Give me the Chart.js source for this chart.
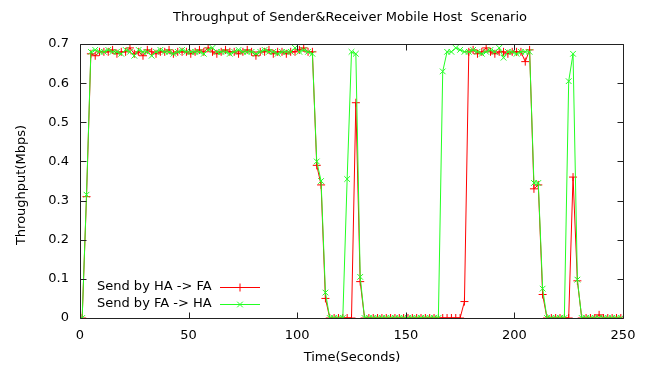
<!DOCTYPE html>
<html><head><meta charset="utf-8">
<script src="https://cdn.jsdelivr.net/npm/chart.js@4.4.1/dist/chart.umd.min.js"></script>
<style>html,body{margin:0;padding:0;background:#fff;}canvas{display:block}</style>
</head><body>
<canvas id="c" width="645" height="368"></canvas>
<script>
const chartTitle = "Throughput of Sender&Receiver Mobile Host  Scenario";
const xTitle = "Time(Seconds)";
const yTitle = "Throughput(Mbps)";
const seriesNames = ["Send by HA -> FA", "Send by FA -> HA"];
const xTicks = [0, 50, 100, 150, 200, 250];
const yTicks = [0, 0.1, 0.2, 0.3, 0.4, 0.5, 0.6, 0.7];

const times = [1,3,5,7,9,11,13,15,17,19,21,23,25,27,29,31,33,35,37,39,41,43,45,47,49,
51,53,55,57,59,61,63,65,67,69,71,73,75,77,79,81,83,85,87,89,91,93,95,97,99,
101,103,105,107,109,111,113,115,117,119,121,123,125,127,129,131,133,135,137,139,
141,143,145,147,149,151,153,155,157,159,161,163,165,167,169,171,173,175,177,179,
181,183,185,187,189,191,193,195,197,199,201,203,205,207,209,211,213,215,217,219,
221,223,225,227,229,231,233,235,237,239,241,243,245,247,249];

const haToFa = [0,0.31,
0.675,0.67,0.68,0.68,0.68,0.685,0.675,0.68,0.68,0.69,
0.675,0.68,0.67,0.685,0.68,0.675,0.68,0.68,0.685,0.675,
0.68,0.68,0.68,0.675,0.68,0.685,0.68,0.69,0.68,0.675,
0.68,0.685,0.68,0.68,0.675,0.68,0.685,0.68,0.67,0.68,
0.68,0.685,0.675,0.68,0.68,0.675,0.68,0.68,0.685,0.69,
0.68,0.68,
0.39,0.34,0.05,
0,0,0,0,0,0,
0.55,0.093,
0,0,0,0,0,0,0,0,0,0,0,0,0,0,0,0,0,0,0,0,0,0,0,
0.042,
0.68,0.685,0.675,0.68,0.69,0.68,0.675,0.68,0.68,0.675,0.68,0.68,0.68,
0.655,0.685,0.33,0.34,0.06,
0,0,0,0,0,0,
0.36,0.095,
0,0,0,0,0.008,0,0,0,0,0];

const faToHa = [0,0.315,
0.68,0.685,0.68,0.68,0.685,0.68,0.68,0.675,0.685,0.68,
0.67,0.685,0.68,0.68,0.67,0.68,0.685,0.68,0.68,0.675,
0.68,0.685,0.68,0.68,0.68,0.68,0.675,0.685,0.69,0.68,
0.68,0.68,0.675,0.68,0.685,0.68,0.68,0.68,0.675,0.68,
0.685,0.68,0.68,0.675,0.68,0.68,0.68,0.69,0.68,0.685,
0.68,0.675,
0.40,0.35,0.065,
0,0,0,0,
0.355,0.68,0.675,0.105,
0,0,0,0,0,0,0,0,0,0,0,0,0,0,0,0,0,0,
0.63,0.68,0.68,0.69,0.685,
0.68,0.68,0.685,0.68,0.675,0.68,0.685,0.68,0.69,0.665,0.68,0.68,0.675,0.68,0.68,
0.68,0.345,0.345,0.075,
0,0,0,0,0,
0.605,0.675,0.098,
0,0,0,0,0,0,0,0,0,0];

const colors = ['rgb(255,0,0)', 'rgb(34,255,34)'];
const FONT = 'DejaVu Sans';
const FS = 13;

const toXY = vals => times.map((t, i) => ({x: t, y: vals[i]}));

const framePlugin = {
  id: 'frame',
  afterDatasetsDraw(chart) {
    const {ctx, chartArea: a, scales: {x, y}} = chart;
    ctx.save();
    ctx.strokeStyle = '#222';
    ctx.lineWidth = 1;
    const L = Math.round(a.left) + 0.5, R = Math.round(a.right) + 0.5;
    const T = Math.round(a.top) + 0.5, B = Math.round(a.bottom) + 0.5;
    ctx.beginPath();
    ctx.rect(L, T, R - L, B - T);
    xTicks.forEach(v => {
      const px = Math.round(x.getPixelForValue(v)) + 0.5;
      ctx.moveTo(px, B); ctx.lineTo(px, B - 6);
      ctx.moveTo(px, T); ctx.lineTo(px, T + 6);
    });
    yTicks.forEach(v => {
      const py = Math.round(y.getPixelForValue(v)) + 0.5;
      ctx.moveTo(L, py); ctx.lineTo(L + 6, py);
      ctx.moveTo(R, py); ctx.lineTo(R - 6, py);
    });
    ctx.stroke();

    // legend
    ctx.font = FS + 'px "' + FONT + '"';
    ctx.fillStyle = '#000';
    ctx.textBaseline = 'middle';
    ctx.textAlign = 'left';
    const rows = [287, 304];
    chart.data.datasets.forEach((ds, i) => {
      const yy = rows[i];
      ctx.fillText(seriesNames[i], 97, yy);
      ctx.strokeStyle = ds.borderColor;
      ctx.lineWidth = 1;
      ctx.beginPath();
      ctx.moveTo(220, yy + 0.5); ctx.lineTo(260, yy + 0.5);
      ctx.stroke();
      Chart.helpers.drawPoint(ctx, {pointStyle: ds.pointStyle, radius: 4, borderWidth: 1, rotation: 0}, 240, yy + 0.5);
    });

    // titles
    ctx.fillStyle = '#000';
    ctx.textAlign = 'center';
    ctx.font = FS + 'px "' + FONT + '"';
    ctx.fillText(chartTitle, 350, 18);
    ctx.fillText(xTitle, 352, 358);
    ctx.translate(22, 185);
    ctx.rotate(-Math.PI / 2);
    ctx.fillText(yTitle, 0, 0);
    ctx.restore();
  }
};

new Chart(document.getElementById('c'), {
  type: 'line',
  data: {
    datasets: [
      {label: seriesNames[0], data: toXY(haToFa), borderColor: colors[0], backgroundColor: colors[0],
       borderWidth: 1, pointStyle: 'cross', pointRadius: 4, pointBorderWidth: 1, pointBorderColor: colors[0], order: 1, tension: 0},
      {label: seriesNames[1], data: toXY(faToHa), borderColor: colors[1], backgroundColor: colors[1],
       borderWidth: 1, pointStyle: 'crossRot', pointRadius: 4, pointBorderWidth: 1, pointBorderColor: colors[1], order: 0, tension: 0}
    ]
  },
  options: {
    responsive: false,
    devicePixelRatio: 1,
    animation: false,
    layout: {padding: {left: 0, top: 44, right: 22, bottom: 0}},
    plugins: {legend: {display: false}, tooltip: {enabled: false}, title: {display: false}},
    scales: {
      x: {
        type: 'linear', min: 0, max: 250,
        afterBuildTicks(s) { s.ticks = xTicks.map(v => ({value: v})); },
        afterFit(s) { s.height = 50; },
        grid: {display: false}, border: {display: false},
        ticks: {color: '#000', padding: 2, maxRotation: 0, font: {family: FONT, size: FS}}
      },
      y: {
        type: 'linear', min: 0, max: 0.7,
        afterBuildTicks(s) { s.ticks = yTicks.map(v => ({value: v})); },
        afterFit(s) { s.width = 80; },
        grid: {display: false}, border: {display: false},
        ticks: {color: '#000', padding: 3, font: {family: FONT, size: FS}}
      }
    }
  },
  plugins: [framePlugin]
});
</script>
</body></html>
